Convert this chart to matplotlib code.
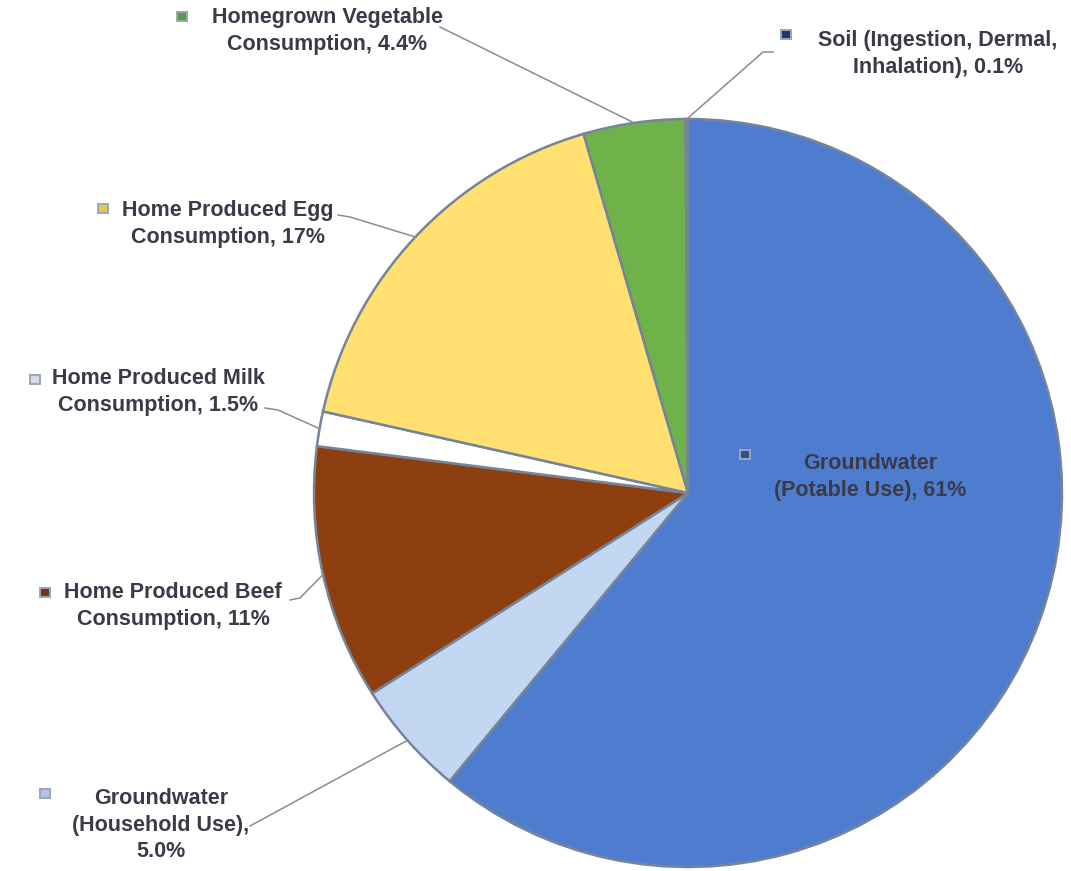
import numpy as np
import matplotlib
matplotlib.use("Agg")
import matplotlib.pyplot as plt
from matplotlib.patches import Rectangle

# ---- data ----
categories = [
    "Groundwater\n(Potable Use), 61%",
    "Groundwater\n(Household Use),\n5.0%",
    "Home Produced Beef\nConsumption, 11%",
    "Home Produced Milk\nConsumption, 1.5%",
    "Home Produced Egg\nConsumption, 17%",
    "Homegrown Vegetable\nConsumption, 4.4%",
    "Soil (Ingestion, Dermal,\nInhalation), 0.1%",
]
values = [61.0, 5.0, 11.0, 1.5, 17.0, 4.4, 0.1]
colors = ["#4e7dd0", "#c3d6f2", "#8e3f10", "#ffffff", "#ffe070", "#6fb24a", "#1f3864"]
marker_colors = ["#2f4f8f", "#b0c4e4", "#7a3612", "#d8dce4", "#e8c84a", "#5a9a3e", "#1f3864"]

# ---- layout (pixel space, y measured from top) ----
W, H = 1071, 871
def py(y):
    return H - y

center = (688, py(493))
radius = 374

label_pos = [(870, 477), (161, 825), (173, 606), (158, 392), (228, 224), (327, 31), (938, 54)]
marker_pos = [(745, 455), (45, 793), (45, 593), (35, 380), (103, 209), (182, 17), (786, 35)]
leader_pts = [
    None,
    [(250, 826)],
    [(290, 600), (300, 598)],
    [(265, 408), (278, 410)],
    [(338, 215), (350, 217)],
    [(440, 27)],
    [(773, 52), (763, 52)],
]

fig = plt.figure(figsize=(W / 100, H / 100), dpi=100)
ax = fig.add_axes([0, 0, 1, 1])

wedges, _ = ax.pie(values, colors=colors, startangle=90, counterclock=False,
                   center=center, radius=radius, frame=True,
                   wedgeprops=dict(edgecolor="#76849a", linewidth=1.8))
ax.set_xlim(0, W)
ax.set_ylim(0, H)
ax.set_aspect("equal")
ax.axis("off")

text_kw = dict(family=["Liberation Sans", "DejaVu Sans"], fontweight="bold",
               fontsize=15.5, color="#3a3a48", ha="center", va="center",
               linespacing=1.36)

for i, (w, lab) in enumerate(zip(wedges, categories)):
    tx, ty = label_pos[i]
    ax.text(tx, py(ty), lab, zorder=5, **text_kw)
    mx, my = marker_pos[i]
    ax.add_patch(Rectangle((mx - 5, py(my) - 4.5), 10, 9, facecolor=marker_colors[i],
                           edgecolor="#9aa6b8", linewidth=1.4, zorder=5))
    if leader_pts[i] is not None:
        ang = np.deg2rad((w.theta1 + w.theta2) / 2)
        ex = center[0] + radius * np.cos(ang)
        ey = center[1] + radius * np.sin(ang)
        xs = [p[0] for p in leader_pts[i]] + [ex]
        ys = [py(p[1]) for p in leader_pts[i]] + [ey]
        ax.plot(xs, ys, color="#8c8c8c", linewidth=1.1, zorder=4)

fig.savefig("out.png", dpi=100, facecolor="white")
